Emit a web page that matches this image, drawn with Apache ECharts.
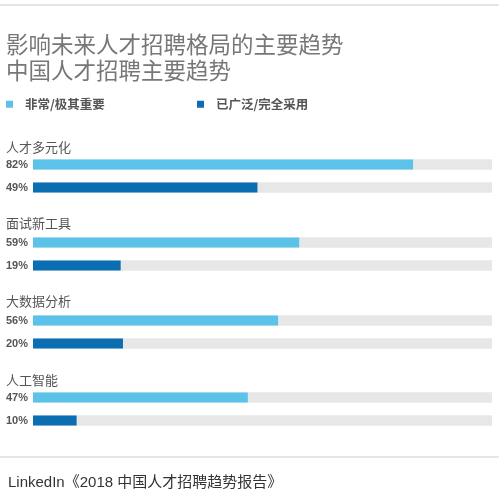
<!DOCTYPE html>
<html><head><meta charset="utf-8">
<script src="https://cdn.jsdelivr.net/npm/echarts@6/dist/echarts.min.js"></script>
<style>html,body{margin:0;padding:0;background:#fff}#c{width:499px;height:502px}</style>
</head><body><div id="c"></div>
<script>
const groups = ['人才多元化', '面试新工具', '大数据分析', '人工智能'];
// printed percentages (labels)
const importantLabels = [82, 59, 56, 47];
const adoptedLabels = [49, 19, 20, 10];
// bar lengths as drawn in the picture
const importantBars = [82.8, 58.0, 53.4, 46.8];
const adoptedBars = [48.9, 19.1, 19.6, 9.5];
const seriesNames = ['非常/极其重要', '已广泛/完全采用'];
const titleText = '影响未来人才招聘格局的主要趋势\n中国人才招聘主要趋势';
const sourceText = 'LinkedIn《2018 中国人才招聘趋势报告》';

const colors = ['#5bc2ea', '#0b6db2'];
const gridTops = [153, 231, 309, 386];
const labelCenters = [147, 223, 301, 380];
const cjk = "'Liberation Sans','Noto Sans CJK SC',sans-serif";

const grids = [], xAxes = [], yAxes = [], series = [];
const titles = [
  {text: titleText, left: 6, top: 31, padding: 0,
   textStyle: {fontSize: 22.5, lineHeight: 26, color: '#777', fontWeight: 'normal', fontFamily: "'Noto Sans CJK SC',sans-serif"}},
  {text: sourceText, left: 8, top: 474, padding: 0,
   textStyle: {fontSize: 15, lineHeight: 18, color: '#333', fontWeight: 'normal', fontFamily: cjk}}
];
groups.forEach((g, i) => {
  grids.push({left: 33, right: 7, top: gridTops[i], height: 46});
  xAxes.push({gridIndex: i, type: 'value', min: 0, max: 100, show: false});
  yAxes.push({gridIndex: i, type: 'category', inverse: true,
    data: [importantLabels[i] + '%', adoptedLabels[i] + '%'],
    axisLine: {show: false}, axisTick: {show: false},
    axisLabel: {margin: 5, fontSize: 11, fontWeight: 'bold', color: '#555', fontFamily: "'Liberation Sans',Arial,sans-serif"}});
  series.push({name: seriesNames[0], type: 'bar', xAxisIndex: i, yAxisIndex: i,
    data: [importantBars[i], '-'], barWidth: 10, barGap: '-100%',
    itemStyle: {color: colors[0]}, showBackground: true, backgroundStyle: {color: '#e7e7e7'}, silent: true});
  series.push({name: seriesNames[1], type: 'bar', xAxisIndex: i, yAxisIndex: i,
    data: ['-', adoptedBars[i]], barWidth: 10, barGap: '-100%',
    itemStyle: {color: colors[1]}, showBackground: true, backgroundStyle: {color: '#e7e7e7'}, silent: true});
  titles.push({text: g, left: 6, top: labelCenters[i] - 8, padding: 0,
    textStyle: {fontSize: 13, lineHeight: 16, color: '#555', fontWeight: 'normal', fontFamily: "'Noto Sans CJK SC',sans-serif"}});
});

const legendStyle = {fontSize: 12.5, color: '#555', fontWeight: 'bold', fontFamily: "'Noto Sans CJK SC',sans-serif", padding: [0, 0, 0, 7]};
const option = {
  animation: false,
  backgroundColor: '#fff',
  title: titles,
  legend: [
    {data: [seriesNames[0]], left: 6, top: 98, padding: 0, itemWidth: 7, itemHeight: 7, icon: 'rect', selectedMode: false, textStyle: legendStyle},
    {data: [seriesNames[1]], left: 197, top: 98, padding: 0, itemWidth: 7, itemHeight: 7, icon: 'rect', selectedMode: false, textStyle: legendStyle}
  ],
  grid: grids, xAxis: xAxes, yAxis: yAxes, series: series,
  graphic: [
    {type: 'rect', shape: {x: 0, y: 4, width: 499, height: 2}, style: {fill: '#e6e6e6'}, silent: true},
    {type: 'rect', shape: {x: 0, y: 456, width: 499, height: 2}, style: {fill: '#e6e6e6'}, silent: true}
  ]
};
echarts.init(document.getElementById('c')).setOption(option);
</script></body></html>
